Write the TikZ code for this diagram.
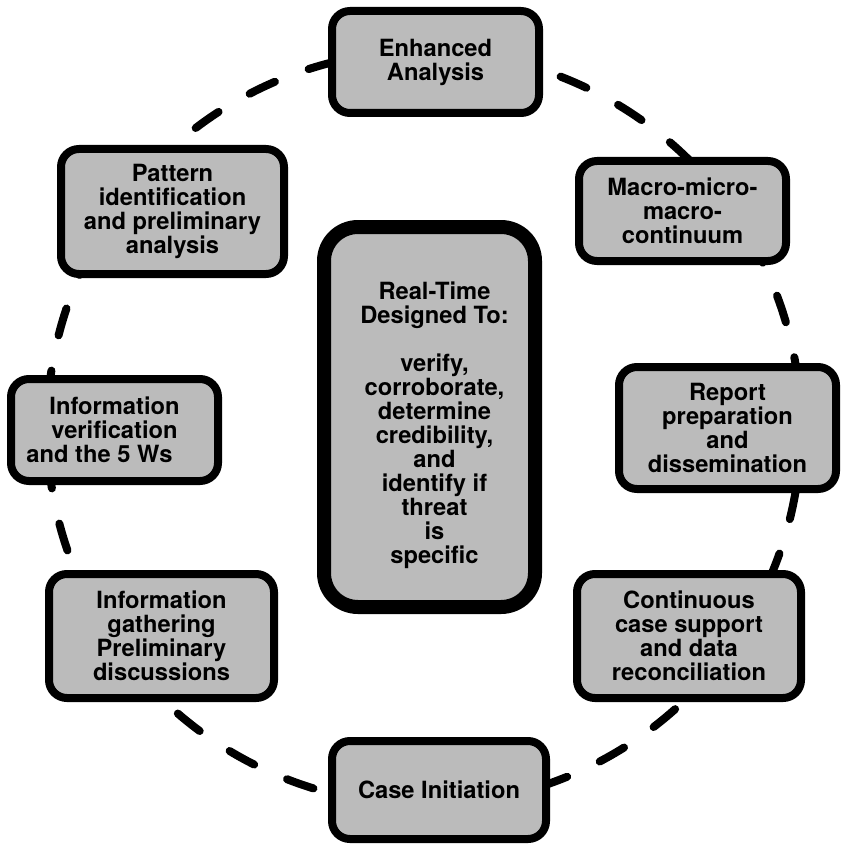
\documentclass[tikz,border=0pt]{standalone}
\usepackage{fontspec}
\setmainfont{TeX Gyre Heros}
\definecolor{boxfill}{RGB}{187,187,187}
\pgfdeclarelayer{back}
\pgfsetlayers{back,main}
\begin{document}
\begin{tikzpicture}[x=1pt,y=-1pt,
  stage/.style={draw=black, line width=8pt, fill=boxfill, rounded corners=18pt,
    align=center, inner sep=0pt, font=\bfseries\fontsize{23.7}{24}\selectfont},
  hub/.style={draw=black, line width=14pt, fill=boxfill, rounded corners=34pt,
    inner sep=0pt},
  hubtext/.style={align=center, inner sep=0pt, font=\bfseries\fontsize{23.7}{24}\selectfont},
  link/.style={line width=8pt, line cap=round, dash pattern=on 28pt off 36pt}]
\useasboundingbox (0,0) rectangle (843,845);
\coordinate (O) at (424,428);

% process stages, clockwise from the top
\node[stage, minimum width=207, minimum height=102] (enh) at (435.5,62) {Enhanced\\Analysis};
\node[stage, minimum width=207, minimum height=100] (mac) at (682.5,211) {Macro-micro-\\macro-\\continuum};
\node[stage, minimum width=217, minimum height=122] (rep) at (727.5,428) {Report\\preparation\\and\\dissemination};
\node[stage, minimum width=224, minimum height=124] (con) at (689,636) {Continuous\\case support\\and data\\reconciliation};
\node[stage, minimum width=214, minimum height=98] (cas) at (439,790) {Case Initiation};
\node[stage, minimum width=225, minimum height=124] (gat) at (161.5,636) {Information\\gathering\\Preliminary\\discussions};
\node[stage, minimum width=207, minimum height=102] (ver) at (114.5,430) {Information\\verification\\and the 5 Ws\hspace*{30pt}};
\node[stage, minimum width=223, minimum height=125] (pat) at (172.5,211.5) {Pattern\\identification\\and preliminary\hspace*{10pt}\\analysis};

% central box and its text
\node[hub, minimum width=211, minimum height=380] (hub) at (429.5,417) {};
\node[hubtext] (hub-text) at ([shift={(5,8)}]hub.center)
  {Real-Time\\Designed To:\\[24pt]verify,\\corroborate,\\determine\\credibility,\\and\\identify if\hspace*{10pt}\\threat\\is\hspace*{12pt}\\specific};

% ports on the ring where each dashed connector leaves its stage
\coordinate (enh-out) at ([shift={(O)}]271.8:377);
\coordinate (mac-out) at ([shift={(O)}]320:377);
\coordinate (rep-out) at ([shift={(O)}]0:377);
\coordinate (con-out) at ([shift={(O)}]38.5:377);
\coordinate (cas-out) at ([shift={(O)}]87.6:377);
\coordinate (gat-out) at ([shift={(O)}]141.6:377);
\coordinate (ver-out) at ([shift={(O)}]184.5:377);
\coordinate (pat-out) at ([shift={(O)}]223:377);

% dashed ring connectors, drawn behind the stages
\begin{pgfonlayer}{back}
\draw[link] (enh-out) arc[start angle=271.8, end angle=320, radius=377];
\draw[link] (mac-out) arc[start angle=320, end angle=360, radius=377];
\draw[link] (rep-out) arc[start angle=0, end angle=38.5, radius=377];
\draw[link] (con-out) arc[start angle=38.5, end angle=87.6, radius=377];
\draw[link] (cas-out) arc[start angle=87.6, end angle=141.6, radius=377];
\draw[link] (gat-out) arc[start angle=141.6, end angle=184.5, radius=377];
\draw[link] (ver-out) arc[start angle=184.5, end angle=223, radius=377];
\draw[link] (pat-out) arc[start angle=223, end angle=271.8, radius=377];
\end{pgfonlayer}
\end{tikzpicture}
\end{document}
